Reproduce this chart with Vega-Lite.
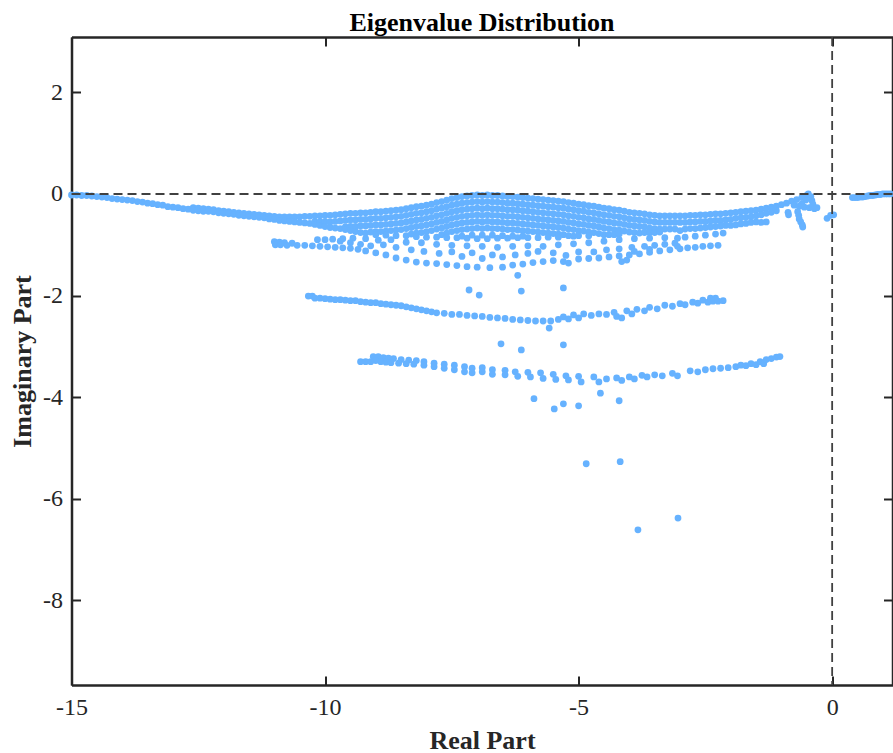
{"$schema":"https://vega.github.io/schema/vega-lite/v6.json","width":821,"height":648,"autosize":"none","padding":{"left":71.5,"top":37,"right":0.5,"bottom":68},"background":"white","config":{"view":{"stroke":null},"font":"Liberation Serif"},
"title":{"text":"Eigenvalue Distribution","font":"Liberation Serif","fontSize":26,"fontWeight":"bold","color":"#000000","anchor":"middle","offset":0},
"datasets":{"eig":[
{"re":-15,"im":-0.02},{"re":-14.9,"im":-0.02},{"re":-14.8,"im":-0.03},{"re":-14.7,"im":-0.03},{"re":-14.6,"im":-0.04},{"re":-14.5,"im":-0.05},{"re":-14.4,"im":-0.06},{"re":-14.3,"im":-0.07},{"re":-14.2,"im":-0.09},{"re":-14.1,"im":-0.1},{"re":-14,"im":-0.11},{"re":-13.9,"im":-0.12},{"re":-13.8,"im":-0.13},{"re":-13.7,"im":-0.15},{"re":-13.6,"im":-0.16},{"re":-13.5,"im":-0.18},{"re":-13.4,"im":-0.19},{"re":-13.3,"im":-0.21},{"re":-13.2,"im":-0.22},{"re":-13.1,"im":-0.25},{"re":-13,"im":-0.26},{"re":-12.9,"im":-0.27},{"re":-12.8,"im":-0.29},{"re":-12.7,"im":-0.3},{"re":-12.6,"im":-0.27},{"re":-12.6,"im":-0.32},{"re":-12.5,"im":-0.28},{"re":-12.5,"im":-0.33},{"re":-12.4,"im":-0.29},{"re":-12.4,"im":-0.34},{"re":-12.3,"im":-0.3},{"re":-12.3,"im":-0.34},{"re":-12.2,"im":-0.31},{"re":-12.2,"im":-0.35},{"re":-12.1,"im":-0.33},{"re":-12.1,"im":-0.37},{"re":-12,"im":-0.34},{"re":-12,"im":-0.38},{"re":-11.9,"im":-0.35},{"re":-11.9,"im":-0.39},{"re":-11.8,"im":-0.36},{"re":-11.8,"im":-0.4},{"re":-11.7,"im":-0.37},{"re":-11.7,"im":-0.42},{"re":-11.6,"im":-0.38},{"re":-11.6,"im":-0.43},{"re":-11.5,"im":-0.39},{"re":-11.5,"im":-0.44},{"re":-11.4,"im":-0.4},{"re":-11.4,"im":-0.45},{"re":-11.3,"im":-0.41},{"re":-11.3,"im":-0.46},{"re":-11.2,"im":-0.42},{"re":-11.2,"im":-0.47},{"re":-11.1,"im":-0.43},{"re":-11.1,"im":-0.49},
{"re":-11,"im":-0.44},{"re":-11,"im":-0.5},{"re":-10.9,"im":-0.45},{"re":-10.9,"im":-0.52},{"re":-10.8,"im":-0.45},{"re":-10.8,"im":-0.53},{"re":-10.7,"im":-0.45},{"re":-10.7,"im":-0.54},{"re":-10.6,"im":-0.45},{"re":-10.6,"im":-0.55},{"re":-10.5,"im":-0.45},{"re":-10.5,"im":-0.56},{"re":-10.4,"im":-0.44},{"re":-10.4,"im":-0.57},{"re":-10.3,"im":-0.44},{"re":-10.3,"im":-0.58},{"re":-10.2,"im":-0.43},{"re":-10.2,"im":-0.54},{"re":-10.2,"im":-0.6},{"re":-10.1,"im":-0.43},{"re":-10.1,"im":-0.55},{"re":-10.1,"im":-0.62},{"re":-10,"im":-0.42},{"re":-10,"im":-0.54},{"re":-10,"im":-0.64},{"re":-9.9,"im":-0.42},{"re":-9.9,"im":-0.55},{"re":-9.9,"im":-0.66},{"re":-9.8,"im":-0.41},{"re":-9.8,"im":-0.54},{"re":-9.8,"im":-0.67},{"re":-9.7,"im":-0.4},{"re":-9.7,"im":-0.53},{"re":-9.7,"im":-0.68},{"re":-9.6,"im":-0.39},{"re":-9.6,"im":-0.52},{"re":-9.6,"im":-0.65},{"re":-9.6,"im":-0.7},{"re":-9.5,"im":-0.38},{"re":-9.5,"im":-0.51},{"re":-9.5,"im":-0.64},{"re":-9.5,"im":-0.72},{"re":-9.4,"im":-0.38},{"re":-9.4,"im":-0.51},{"re":-9.4,"im":-0.64},{"re":-9.4,"im":-0.74},{"re":-9.3,"im":-0.37},{"re":-9.3,"im":-0.5},{"re":-9.3,"im":-0.63},{"re":-9.3,"im":-0.76},{"re":-9.2,"im":-0.37},{"re":-9.2,"im":-0.5},{"re":-9.2,"im":-0.63},{"re":-9.2,"im":-0.77},{"re":-9.1,"im":-0.36},{"re":-9.1,"im":-0.49},{"re":-9.1,"im":-0.62},{"re":-9.1,"im":-0.75},{"re":-9,"im":-0.35},{"re":-9,"im":-0.48},{"re":-9,"im":-0.61},{"re":-9,"im":-0.74},{"re":-9,"im":-0.8},{"re":-8.9,"im":-0.35},{"re":-8.9,"im":-0.48},{"re":-8.9,"im":-0.61},{"re":-8.9,"im":-0.74},{"re":-8.8,"im":-0.34},{"re":-8.8,"im":-0.47},{"re":-8.8,"im":-0.6},{"re":-8.8,"im":-0.73},{"re":-8.8,"im":-0.81},{"re":-8.7,"im":-0.33},{"re":-8.7,"im":-0.46},{"re":-8.7,"im":-0.59},{"re":-8.7,"im":-0.72},{"re":-8.6,"im":-0.32},{"re":-8.6,"im":-0.45},{"re":-8.6,"im":-0.58},{"re":-8.6,"im":-0.71},{"re":-8.6,"im":-0.82},{"re":-8.5,"im":-0.31},{"re":-8.5,"im":-0.44},{"re":-8.5,"im":-0.57},{"re":-8.5,"im":-0.7},{"re":-8.4,"im":-0.29},{"re":-8.4,"im":-0.42},{"re":-8.4,"im":-0.55},{"re":-8.4,"im":-0.68},{"re":-8.4,"im":-0.82},{"re":-8.3,"im":-0.27},{"re":-8.3,"im":-0.4},{"re":-8.3,"im":-0.53},{"re":-8.3,"im":-0.66},{"re":-8.3,"im":-0.79},{"re":-8.2,"im":-0.25},{"re":-8.2,"im":-0.38},{"re":-8.2,"im":-0.51},{"re":-8.2,"im":-0.64},{"re":-8.2,"im":-0.77},{"re":-8.2,"im":-0.84},{"re":-8.1,"im":-0.24},{"re":-8.1,"im":-0.37},{"re":-8.1,"im":-0.5},{"re":-8.1,"im":-0.63},{"re":-8.1,"im":-0.76},{"re":-8,"im":-0.22},{"re":-8,"im":-0.35},{"re":-8,"im":-0.48},{"re":-8,"im":-0.61},{"re":-8,"im":-0.74},{"re":-8,"im":-0.85},{"re":-7.9,"im":-0.2},{"re":-7.9,"im":-0.33},{"re":-7.9,"im":-0.46},{"re":-7.9,"im":-0.59},{"re":-7.9,"im":-0.72},{"re":-7.8,"im":-0.17},{"re":-7.8,"im":-0.3},{"re":-7.8,"im":-0.43},{"re":-7.8,"im":-0.56},{"re":-7.8,"im":-0.69},{"re":-7.8,"im":-0.85},{"re":-7.7,"im":-0.15},{"re":-7.7,"im":-0.28},{"re":-7.7,"im":-0.41},{"re":-7.7,"im":-0.54},{"re":-7.7,"im":-0.67},{"re":-7.7,"im":-0.8},{"re":-7.6,"im":-0.12},{"re":-7.6,"im":-0.25},{"re":-7.6,"im":-0.38},{"re":-7.6,"im":-0.51},{"re":-7.6,"im":-0.64},{"re":-7.6,"im":-0.77},{"re":-7.6,"im":-0.86},{"re":-7.5,"im":-0.09},{"re":-7.5,"im":-0.22},{"re":-7.5,"im":-0.35},{"re":-7.5,"im":-0.48},{"re":-7.5,"im":-0.61},{"re":-7.5,"im":-0.74},{"re":-7.4,"im":-0.07},{"re":-7.4,"im":-0.2},{"re":-7.4,"im":-0.33},{"re":-7.4,"im":-0.46},{"re":-7.4,"im":-0.59},{"re":-7.4,"im":-0.72},{"re":-7.4,"im":-0.86},{"re":-7.3,"im":-0.05},{"re":-7.3,"im":-0.18},{"re":-7.3,"im":-0.31},{"re":-7.3,"im":-0.44},{"re":-7.3,"im":-0.57},{"re":-7.3,"im":-0.7},{"re":-7.3,"im":-0.83},{"re":-7.2,"im":-0.04},{"re":-7.2,"im":-0.17},{"re":-7.2,"im":-0.3},{"re":-7.2,"im":-0.43},{"re":-7.2,"im":-0.56},{"re":-7.2,"im":-0.69},{"re":-7.2,"im":-0.87},{"re":-7.1,"im":-0.03},{"re":-7.1,"im":-0.16},{"re":-7.1,"im":-0.29},{"re":-7.1,"im":-0.42},{"re":-7.1,"im":-0.55},{"re":-7.1,"im":-0.68},{"re":-7.1,"im":-0.81},{"re":-7,"im":-0.02},{"re":-7,"im":-0.15},{"re":-7,"im":-0.28},{"re":-7,"im":-0.41},{"re":-7,"im":-0.54},{"re":-7,"im":-0.67},{"re":-7,"im":-0.88},{"re":-6.9,"im":-0.03},{"re":-6.9,"im":-0.16},{"re":-6.9,"im":-0.29},{"re":-6.9,"im":-0.42},{"re":-6.9,"im":-0.55},{"re":-6.9,"im":-0.68},{"re":-6.9,"im":-0.81},{"re":-6.8,"im":-0.02},{"re":-6.8,"im":-0.15},{"re":-6.8,"im":-0.28},{"re":-6.8,"im":-0.41},{"re":-6.8,"im":-0.54},{"re":-6.8,"im":-0.67},{"re":-6.8,"im":-0.88},{"re":-6.7,"im":-0.03},{"re":-6.7,"im":-0.16},{"re":-6.7,"im":-0.29},{"re":-6.7,"im":-0.42},{"re":-6.7,"im":-0.55},{"re":-6.7,"im":-0.68},{"re":-6.7,"im":-0.81},{"re":-6.6,"im":-0.03},{"re":-6.6,"im":-0.16},{"re":-6.6,"im":-0.29},{"re":-6.6,"im":-0.42},{"re":-6.6,"im":-0.55},{"re":-6.6,"im":-0.68},{"re":-6.6,"im":-0.87},{"re":-6.5,"im":-0.04},{"re":-6.5,"im":-0.17},{"re":-6.5,"im":-0.3},{"re":-6.5,"im":-0.43},{"re":-6.5,"im":-0.56},{"re":-6.5,"im":-0.69},{"re":-6.5,"im":-0.82},{"re":-6.4,"im":-0.05},{"re":-6.4,"im":-0.18},{"re":-6.4,"im":-0.31},{"re":-6.4,"im":-0.44},{"re":-6.4,"im":-0.57},{"re":-6.4,"im":-0.7},{"re":-6.4,"im":-0.87},{"re":-6.3,"im":-0.05},{"re":-6.3,"im":-0.18},{"re":-6.3,"im":-0.31},{"re":-6.3,"im":-0.44},{"re":-6.3,"im":-0.57},{"re":-6.3,"im":-0.7},{"re":-6.3,"im":-0.83},{"re":-6.2,"im":-0.06},{"re":-6.2,"im":-0.19},{"re":-6.2,"im":-0.32},{"re":-6.2,"im":-0.45},{"re":-6.2,"im":-0.58},{"re":-6.2,"im":-0.71},{"re":-6.2,"im":-0.86},{"re":-6.1,"im":-0.07},{"re":-6.1,"im":-0.2},{"re":-6.1,"im":-0.33},{"re":-6.1,"im":-0.46},{"re":-6.1,"im":-0.59},{"re":-6.1,"im":-0.72},{"re":-6.1,"im":-0.83},{"re":-6,"im":-0.08},{"re":-6,"im":-0.21},{"re":-6,"im":-0.34},{"re":-6,"im":-0.47},{"re":-6,"im":-0.6},{"re":-6,"im":-0.73},{"re":-6,"im":-0.86},{"re":-5.9,"im":-0.09},{"re":-5.9,"im":-0.22},{"re":-5.9,"im":-0.35},{"re":-5.9,"im":-0.48},{"re":-5.9,"im":-0.61},{"re":-5.9,"im":-0.74},{"re":-5.8,"im":-0.1},{"re":-5.8,"im":-0.23},{"re":-5.8,"im":-0.36},{"re":-5.8,"im":-0.49},{"re":-5.8,"im":-0.62},{"re":-5.8,"im":-0.75},{"re":-5.8,"im":-0.86},{"re":-5.7,"im":-0.11},{"re":-5.7,"im":-0.24},{"re":-5.7,"im":-0.37},{"re":-5.7,"im":-0.5},{"re":-5.7,"im":-0.63},{"re":-5.7,"im":-0.76},{"re":-5.6,"im":-0.12},{"re":-5.6,"im":-0.25},{"re":-5.6,"im":-0.38},{"re":-5.6,"im":-0.51},{"re":-5.6,"im":-0.64},{"re":-5.6,"im":-0.77},{"re":-5.6,"im":-0.85},{"re":-5.5,"im":-0.13},{"re":-5.5,"im":-0.26},{"re":-5.5,"im":-0.39},{"re":-5.5,"im":-0.52},{"re":-5.5,"im":-0.65},{"re":-5.5,"im":-0.78},{"re":-5.4,"im":-0.14},{"re":-5.4,"im":-0.27},{"re":-5.4,"im":-0.4},{"re":-5.4,"im":-0.53},{"re":-5.4,"im":-0.66},{"re":-5.4,"im":-0.79},{"re":-5.4,"im":-0.85},{"re":-5.3,"im":-0.15},{"re":-5.3,"im":-0.28},{"re":-5.3,"im":-0.41},{"re":-5.3,"im":-0.54},{"re":-5.3,"im":-0.67},{"re":-5.3,"im":-0.8},{"re":-5.2,"im":-0.17},{"re":-5.2,"im":-0.3},{"re":-5.2,"im":-0.43},{"re":-5.2,"im":-0.56},{"re":-5.2,"im":-0.69},{"re":-5.2,"im":-0.82},{"re":-5.1,"im":-0.18},{"re":-5.1,"im":-0.31},{"re":-5.1,"im":-0.44},{"re":-5.1,"im":-0.57},{"re":-5.1,"im":-0.7},{"re":-5.1,"im":-0.83},{"re":-5,"im":-0.2},{"re":-5,"im":-0.33},{"re":-5,"im":-0.46},{"re":-5,"im":-0.59},{"re":-5,"im":-0.72},{"re":-5,"im":-0.82},{"re":-4.9,"im":-0.21},{"re":-4.9,"im":-0.34},{"re":-4.9,"im":-0.47},{"re":-4.9,"im":-0.6},{"re":-4.9,"im":-0.73},{"re":-4.8,"im":-0.23},{"re":-4.8,"im":-0.36},{"re":-4.8,"im":-0.49},{"re":-4.8,"im":-0.62},{"re":-4.8,"im":-0.75},{"re":-4.8,"im":-0.82},{"re":-4.7,"im":-0.24},{"re":-4.7,"im":-0.37},{"re":-4.7,"im":-0.5},{"re":-4.7,"im":-0.63},{"re":-4.7,"im":-0.76},{"re":-4.6,"im":-0.26},{"re":-4.6,"im":-0.39},{"re":-4.6,"im":-0.52},{"re":-4.6,"im":-0.65},{"re":-4.6,"im":-0.78},{"re":-4.5,"im":-0.28},{"re":-4.5,"im":-0.41},{"re":-4.5,"im":-0.54},{"re":-4.5,"im":-0.67},{"re":-4.5,"im":-0.8},{"re":-4.4,"im":-0.29},{"re":-4.4,"im":-0.42},{"re":-4.4,"im":-0.55},{"re":-4.4,"im":-0.68},{"re":-4.4,"im":-0.8},{"re":-4.3,"im":-0.31},{"re":-4.3,"im":-0.44},{"re":-4.3,"im":-0.57},{"re":-4.3,"im":-0.7},{"re":-4.3,"im":-0.8},{"re":-4.2,"im":-0.32},{"re":-4.2,"im":-0.45},{"re":-4.2,"im":-0.58},{"re":-4.2,"im":-0.71},{"re":-4.2,"im":-0.79},{"re":-4.1,"im":-0.34},{"re":-4.1,"im":-0.47},{"re":-4.1,"im":-0.6},{"re":-4.1,"im":-0.73},{"re":-4,"im":-0.36},{"re":-4,"im":-0.49},{"re":-4,"im":-0.62},{"re":-4,"im":-0.75},{"re":-3.9,"im":-0.37},{"re":-3.9,"im":-0.5},{"re":-3.9,"im":-0.63},{"re":-3.9,"im":-0.76},{"re":-3.8,"im":-0.38},{"re":-3.8,"im":-0.51},{"re":-3.8,"im":-0.64},{"re":-3.8,"im":-0.77},{"re":-3.7,"im":-0.39},{"re":-3.7,"im":-0.52},{"re":-3.7,"im":-0.65},{"re":-3.7,"im":-0.76},{"re":-3.6,"im":-0.41},{"re":-3.6,"im":-0.54},{"re":-3.6,"im":-0.67},{"re":-3.6,"im":-0.76},{"re":-3.5,"im":-0.42},{"re":-3.5,"im":-0.55},{"re":-3.5,"im":-0.68},{"re":-3.5,"im":-0.76},{"re":-3.4,"im":-0.43},{"re":-3.4,"im":-0.56},{"re":-3.4,"im":-0.69},{"re":-3.4,"im":-0.75},{"re":-3.3,"im":-0.43},{"re":-3.3,"im":-0.56},{"re":-3.3,"im":-0.69},{"re":-3.2,"im":-0.43},{"re":-3.2,"im":-0.56},{"re":-3.2,"im":-0.69},{"re":-3.1,"im":-0.43},{"re":-3.1,"im":-0.56},{"re":-3.1,"im":-0.69},{"re":-3,"im":-0.43},{"re":-3,"im":-0.56},{"re":-3,"im":-0.72},{"re":-2.9,"im":-0.43},{"re":-2.9,"im":-0.56},{"re":-2.9,"im":-0.69},{"re":-2.8,"im":-0.42},{"re":-2.8,"im":-0.55},{"re":-2.8,"im":-0.68},{"re":-2.7,"im":-0.42},{"re":-2.7,"im":-0.55},{"re":-2.7,"im":-0.68},{"re":-2.6,"im":-0.41},{"re":-2.6,"im":-0.54},{"re":-2.6,"im":-0.67},{"re":-2.5,"im":-0.41},{"re":-2.5,"im":-0.54},{"re":-2.5,"im":-0.66},{"re":-2.4,"im":-0.4},{"re":-2.4,"im":-0.53},{"re":-2.4,"im":-0.65},{"re":-2.3,"im":-0.39},{"re":-2.3,"im":-0.52},{"re":-2.3,"im":-0.64},{"re":-2.2,"im":-0.39},{"re":-2.2,"im":-0.52},{"re":-2.2,"im":-0.63},{"re":-2.1,"im":-0.38},{"re":-2.1,"im":-0.51},{"re":-2.1,"im":-0.62},{"re":-2,"im":-0.37},{"re":-2,"im":-0.5},{"re":-2,"im":-0.62},{"re":-1.9,"im":-0.36},{"re":-1.9,"im":-0.48},{"re":-1.9,"im":-0.61},{"re":-1.8,"im":-0.35},{"re":-1.8,"im":-0.47},{"re":-1.8,"im":-0.59},{"re":-1.7,"im":-0.34},{"re":-1.7,"im":-0.46},{"re":-1.7,"im":-0.58},{"re":-1.6,"im":-0.33},{"re":-1.6,"im":-0.45},{"re":-1.6,"im":-0.56},{"re":-1.5,"im":-0.32},{"re":-1.5,"im":-0.43},{"re":-1.5,"im":-0.55},{"re":-1.4,"im":-0.3},{"re":-1.4,"im":-0.41},{"re":-1.4,"im":-0.56},{"re":-1.3,"im":-0.28},{"re":-1.3,"im":-0.38},{"re":-1.3,"im":-0.55},{"re":-1.2,"im":-0.26},{"re":-1.2,"im":-0.36},{"re":-1.1,"im":-0.24},{"re":-1.1,"im":-0.33},{"re":-1,"im":-0.21},{"re":-0.9,"im":-0.18},{"re":-0.8,"im":-0.14},{"re":-0.75,"im":-0.22},{"re":-0.7,"im":-0.11},{"re":-0.65,"im":-0.24},{"re":-0.6,"im":-0.07},{"re":-0.55,"im":-0.26},{"re":-0.5,"im":-0.03},{"re":-0.47,"im":0},{"re":-0.45,"im":-0.27},{"re":-0.42,"im":-0.05},{"re":-0.4,"im":-0.13},{"re":-0.38,"im":-0.2},{"re":-0.35,"im":-0.29},{"re":-0.3,"im":-0.27},{"re":-0.52,"im":-0.12},{"re":-0.6,"im":-0.2},
{"re":-0.87,"im":-0.36},{"re":-0.86,"im":-0.41},{"re":-0.68,"im":-0.35},{"re":-0.66,"im":-0.42},{"re":-0.65,"im":-0.49},{"re":-0.62,"im":-0.55},{"re":-0.59,"im":-0.61},{"re":-0.58,"im":-0.65},{"re":-0.1,"im":-0.48},{"re":-0.03,"im":-0.42},{"re":0.03,"im":-0.41},
{"re":0.4,"im":-0.07},{"re":0.45,"im":-0.07},{"re":0.5,"im":-0.07},{"re":0.55,"im":-0.06},{"re":0.6,"im":-0.06},{"re":0.65,"im":-0.05},{"re":0.7,"im":-0.04},{"re":0.75,"im":-0.03},{"re":0.8,"im":-0.03},{"re":0.85,"im":-0.02},{"re":0.9,"im":-0.01},{"re":0.95,"im":-0.01},{"re":1,"im":0},{"re":1.05,"im":0},{"re":1.1,"im":0},{"re":1.15,"im":0},
{"re":-11,"im":-0.94},{"re":-10.98,"im":-1},{"re":-10.9,"im":-0.95},{"re":-10.88,"im":-1},{"re":-10.8,"im":-0.96},{"re":-10.75,"im":-1.01},{"re":-10.65,"im":-0.97},{"re":-10.55,"im":-1.01},{"re":-10.4,"im":-1.01},{"re":-10.25,"im":-1.02},{"re":-10.1,"im":-1.03},{"re":-9.95,"im":-1.04},{"re":-9.8,"im":-1.05},{"re":-9.65,"im":-1.06},{"re":-9.5,"im":-1.07},{"re":-9.35,"im":-1.09},{"re":-9.2,"im":-1.12},{"re":-9,"im":-1.16},{"re":-8.8,"im":-1.2},{"re":-8.6,"im":-1.26},{"re":-8.4,"im":-1.3},{"re":-8.2,"im":-1.34},{"re":-8,"im":-1.36},{"re":-7.8,"im":-1.37},{"re":-7.6,"im":-1.39},{"re":-7.4,"im":-1.41},{"re":-7.2,"im":-1.43},{"re":-7,"im":-1.44},{"re":-6.75,"im":-1.45},{"re":-6.5,"im":-1.44},{"re":-6.3,"im":-1.4},{"re":-6.1,"im":-1.38},{"re":-5.9,"im":-1.35},{"re":-5.7,"im":-1.33},{"re":-5.5,"im":-1.31},{"re":-5.3,"im":-1.33},{"re":-5.2,"im":-1.36},{"re":-5,"im":-1.28},{"re":-4.8,"im":-1.27},{"re":-4.6,"im":-1.26},{"re":-4.4,"im":-1.24},{"re":-4.2,"im":-1.22},{"re":-4.15,"im":-1.33},{"re":-4.05,"im":-1.3},{"re":-4,"im":-1.2},{"re":-3.8,"im":-1.18},{"re":-3.6,"im":-1.15},{"re":-3.4,"im":-1.12},{"re":-3.2,"im":-1.1},{"re":-3,"im":-1.08},{"re":-2.85,"im":-1.06},{"re":-2.7,"im":-1.05},{"re":-2.55,"im":-1.03},{"re":-2.4,"im":-1.02},{"re":-2.25,"im":-1.01},
{"re":-10.15,"im":-0.9},{"re":-10,"im":-0.9},{"re":-9.85,"im":-0.89},{"re":-9.65,"im":-0.88},{"re":-9.45,"im":-0.87},{"re":-9.2,"im":-0.88},{"re":-8.95,"im":-0.91},{"re":-8.7,"im":-0.9},{"re":-8.4,"im":-0.95},{"re":-8.1,"im":-0.96},{"re":-7.8,"im":-0.99},{"re":-7.5,"im":-1.01},{"re":-7.2,"im":-1.02},{"re":-6.9,"im":-1.03},{"re":-6.6,"im":-1.05},{"re":-6.3,"im":-1.03},{"re":-6,"im":-1.02},{"re":-5.7,"im":-1.03},{"re":-5.4,"im":-1},{"re":-5.1,"im":-0.98},{"re":-4.8,"im":-0.96},{"re":-4.5,"im":-0.93},{"re":-4.2,"im":-0.9},{"re":-3.9,"im":-0.88},{"re":-3.6,"im":-0.87},{"re":-3.3,"im":-0.86},{"re":-3.05,"im":-0.87},{"re":-2.9,"im":-0.85},{"re":-2.7,"im":-0.83},{"re":-2.5,"im":-0.81},{"re":-2.3,"im":-0.79},{"re":-2.15,"im":-0.77},
{"re":-9.7,"im":-0.93},{"re":-9.5,"im":-0.96},{"re":-9.3,"im":-0.99},{"re":-9.1,"im":-1.02},{"re":-8.85,"im":-1},{"re":-8.6,"im":-1.05},{"re":-8.3,"im":-1.1},{"re":-8.05,"im":-1.13},{"re":-7.75,"im":-1.17},{"re":-7.5,"im":-1.14},{"re":-7.3,"im":-1.23},{"re":-7.1,"im":-1.16},{"re":-6.9,"im":-1.27},{"re":-6.7,"im":-1.2},{"re":-6.5,"im":-1.24},{"re":-6.25,"im":-1.2},{"re":-6,"im":-1.17},{"re":-5.8,"im":-1.13},{"re":-5.5,"im":-1.16},{"re":-5.25,"im":-1.21},{"re":-5,"im":-1.14},{"re":-4.7,"im":-1.14},{"re":-4.45,"im":-1.1},{"re":-4.2,"im":-1.08},{"re":-3.95,"im":-1.05},{"re":-3.7,"im":-1.03},{"re":-3.5,"im":-1.01},{"re":-3.3,"im":-0.99},{"re":-3.1,"im":-0.97},{"re":-3.05,"im":-1.03},{"re":-3.6,"im":-1.09},{"re":-3.9,"im":-1.13},
{"re":-10.33,"im":-2.01},{"re":-10.25,"im":-2.01},{"re":-10.2,"im":-2.05},{"re":-10.1,"im":-2.05},{"re":-10,"im":-2.06},{"re":-9.9,"im":-2.07},{"re":-9.8,"im":-2.08},{"re":-9.7,"im":-2.08},{"re":-9.6,"im":-2.09},{"re":-9.5,"im":-2.1},{"re":-9.4,"im":-2.1},{"re":-9.3,"im":-2.12},{"re":-9.2,"im":-2.13},{"re":-9.1,"im":-2.14},{"re":-9,"im":-2.14},{"re":-8.9,"im":-2.16},{"re":-8.8,"im":-2.17},{"re":-8.7,"im":-2.18},{"re":-8.6,"im":-2.19},{"re":-8.5,"im":-2.2},{"re":-8.4,"im":-2.22},{"re":-8.3,"im":-2.24},{"re":-8.2,"im":-2.26},{"re":-8.1,"im":-2.28},{"re":-8,"im":-2.3},{"re":-7.9,"im":-2.32},{"re":-7.8,"im":-2.34},{"re":-7.65,"im":-2.35},{"re":-7.5,"im":-2.37},{"re":-7.35,"im":-2.37},{"re":-7.2,"im":-2.39},{"re":-7.05,"im":-2.4},{"re":-6.9,"im":-2.41},{"re":-6.75,"im":-2.43},{"re":-6.6,"im":-2.44},{"re":-6.45,"im":-2.45},{"re":-6.3,"im":-2.47},{"re":-6.15,"im":-2.48},{"re":-6,"im":-2.49},{"re":-5.85,"im":-2.5},{"re":-5.7,"im":-2.5},{"re":-5.55,"im":-2.5},{"re":-5.4,"im":-2.47},{"re":-5.3,"im":-2.42},{"re":-5.2,"im":-2.46},{"re":-5.1,"im":-2.38},{"re":-5,"im":-2.44},{"re":-4.9,"im":-2.36},{"re":-4.75,"im":-2.39},{"re":-4.6,"im":-2.36},{"re":-4.45,"im":-2.37},{"re":-4.3,"im":-2.33},{"re":-4.25,"im":-2.41},{"re":-4.15,"im":-2.44},{"re":-4.05,"im":-2.3},{"re":-3.95,"im":-2.36},{"re":-3.85,"im":-2.27},{"re":-3.7,"im":-2.3},{"re":-3.6,"im":-2.23},{"re":-3.45,"im":-2.26},{"re":-3.3,"im":-2.19},{"re":-3.15,"im":-2.21},{"re":-3,"im":-2.16},{"re":-2.9,"im":-2.18},{"re":-2.75,"im":-2.13},{"re":-2.65,"im":-2.15},{"re":-2.55,"im":-2.09},{"re":-2.45,"im":-2.13},{"re":-2.4,"im":-2.05},{"re":-2.3,"im":-2.05},{"re":-2.35,"im":-2.11},{"re":-2.25,"im":-2.11},{"re":-2.15,"im":-2.1},
{"re":-9.3,"im":-3.3},{"re":-9.2,"im":-3.3},{"re":-9.1,"im":-3.3},{"re":-9.05,"im":-3.2},{"re":-8.95,"im":-3.2},{"re":-9,"im":-3.28},{"re":-8.85,"im":-3.22},{"re":-8.9,"im":-3.3},{"re":-8.75,"im":-3.23},{"re":-8.8,"im":-3.31},{"re":-8.65,"im":-3.24},{"re":-8.7,"im":-3.32},{"re":-8.5,"im":-3.26},{"re":-8.55,"im":-3.33},{"re":-8.35,"im":-3.27},{"re":-8.4,"im":-3.34},{"re":-8.2,"im":-3.28},{"re":-8.25,"im":-3.35},{"re":-8.05,"im":-3.3},{"re":-8.05,"im":-3.37},{"re":-7.85,"im":-3.33},{"re":-7.85,"im":-3.4},{"re":-7.65,"im":-3.35},{"re":-7.65,"im":-3.43},{"re":-7.45,"im":-3.37},{"re":-7.45,"im":-3.46},{"re":-7.25,"im":-3.4},{"re":-7.25,"im":-3.5},{"re":-7.1,"im":-3.43},{"re":-7.1,"im":-3.52},{"re":-6.9,"im":-3.42},{"re":-6.9,"im":-3.5},{"re":-6.7,"im":-3.46},{"re":-6.7,"im":-3.55},{"re":-6.45,"im":-3.47},{"re":-6.45,"im":-3.56},{"re":-6.25,"im":-3.5},{"re":-6.2,"im":-3.59},{"re":-6,"im":-3.51},{"re":-5.95,"im":-3.6},{"re":-5.75,"im":-3.52},{"re":-5.7,"im":-3.63},{"re":-5.5,"im":-3.55},{"re":-5.45,"im":-3.65},{"re":-5.25,"im":-3.58},{"re":-5.2,"im":-3.66},{"re":-5,"im":-3.59},{"re":-4.95,"im":-3.7},{"re":-4.7,"im":-3.6},{"re":-4.6,"im":-3.7},{"re":-4.45,"im":-3.64},{"re":-4.25,"im":-3.62},{"re":-4.15,"im":-3.67},{"re":-4,"im":-3.6},{"re":-3.9,"im":-3.64},{"re":-3.75,"im":-3.57},{"re":-3.65,"im":-3.6},{"re":-3.5,"im":-3.56},{"re":-3.35,"im":-3.58},{"re":-3.15,"im":-3.53},{"re":-3.05,"im":-3.58},{"re":-2.8,"im":-3.48},{"re":-2.65,"im":-3.5},{"re":-2.5,"im":-3.46},{"re":-2.35,"im":-3.44},{"re":-2.2,"im":-3.43},{"re":-2.05,"im":-3.42},{"re":-1.9,"im":-3.4},{"re":-1.8,"im":-3.37},{"re":-1.7,"im":-3.38},{"re":-1.6,"im":-3.34},{"re":-1.5,"im":-3.36},{"re":-1.42,"im":-3.3},{"re":-1.35,"im":-3.34},{"re":-1.3,"im":-3.26},{"re":-1.2,"im":-3.24},{"re":-1.1,"im":-3.21},{"re":-1.03,"im":-3.2},
{"re":-7.16,"im":-1.89},{"re":-6.96,"im":-1.99},{"re":-6.13,"im":-1.91},{"re":-5.3,"im":-1.85},{"re":-6.2,"im":-1.6},{"re":-6.53,"im":-2.95},{"re":-6.13,"im":-3.07},{"re":-5.3,"im":-2.97},{"re":-5.58,"im":-2.64},{"re":-5.88,"im":-4.03},{"re":-5.48,"im":-4.23},{"re":-5.3,"im":-4.13},{"re":-5,"im":-4.17},{"re":-4.57,"im":-3.92},{"re":-4.2,"im":-4.07},{"re":-4.85,"im":-5.31},{"re":-4.18,"im":-5.27},{"re":-3.83,"im":-6.61},{"re":-3.04,"im":-6.38}
],"refs":[{"v":0}]},
"layer":[
{"data":{"name":"eig"},"mark":{"type":"circle","size":46,"color":"#66B2FF","opacity":1},
"encoding":{"x":{"field":"re","type":"quantitative","scale":{"domain":[-15,1.19],"nice":false,"zero":false},
"axis":{"orient":"bottom","values":[-15,-10,-5,0],"labelExpr":"toString(datum.value)","title":"Real Part","grid":false,"domain":true,"domainWidth":2.5,"domainColor":"#262626","tickColor":"#262626","tickWidth":2,"tickSize":-9,"labelFont":"Liberation Serif","labelFontSize":24,"labelColor":"#262626","labelPadding":19,"labelFlush":false,"titleFont":"Liberation Serif","titleFontSize":26,"titleFontWeight":"bold","titleColor":"#262626","titlePadding":8}},
"y":{"field":"im","type":"quantitative","scale":{"domain":[-9.665,3.09],"nice":false,"zero":false},
"axis":{"orient":"left","values":[-8,-6,-4,-2,0,2],"labelExpr":"toString(datum.value)","title":"Imaginary Part","grid":false,"domain":true,"domainWidth":2.5,"domainColor":"#262626","tickColor":"#262626","tickWidth":2,"tickSize":-9,"labelFont":"Liberation Serif","labelFontSize":24,"labelColor":"#262626","labelPadding":18,"titleFont":"Liberation Serif","titleFontSize":26,"titleFontWeight":"bold","titleColor":"#262626","titlePadding":7}}}},
{"data":{"name":"refs"},"mark":{"type":"rule","color":"#404040","strokeWidth":1.8,"strokeDash":[9,5]},"encoding":{"y":{"field":"v","type":"quantitative","axis":{"orient":"right","values":[-8,-6,-4,-2,0,2],"labels":false,"title":null,"grid":false,"domainWidth":2.5,"domainColor":"#262626","tickColor":"#262626","tickWidth":2,"tickSize":-9}}}},
{"data":{"name":"refs"},"mark":{"type":"rule","color":"#404040","strokeWidth":1.8,"strokeDash":[9,5]},"encoding":{"x":{"field":"v","type":"quantitative","axis":{"orient":"top","values":[-15,-10,-5,0],"labels":false,"title":null,"grid":false,"domainWidth":2.5,"domainColor":"#262626","tickColor":"#262626","tickWidth":2,"tickSize":-9}}}}
],
"resolve":{"scale":{"x":"shared","y":"shared"},"axis":{"x":"independent","y":"independent"}}}
